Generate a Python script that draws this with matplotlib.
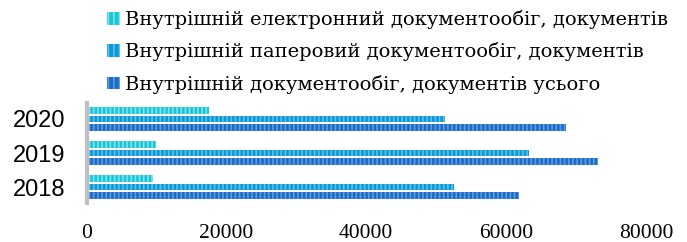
import numpy as np
import matplotlib.pyplot as plt
from matplotlib.patches import Patch

# Data
years = ['2018', '2019', '2020']
electronic = [9500, 9900, 17500]
paper = [52500, 63200, 51200]
total = [61900, 73200, 68600]
labels = ['Внутрішній електронний документообіг, документів',
          'Внутрішній паперовий документообіг, документів',
          'Внутрішній документообіг, документів усього']
xticks = [0, 20000, 40000, 60000, 80000]

colors = ['#19C6D6', '#0A98D6', '#1A6CC6']
hatch_colors = ['#7FE3EC', '#5CC0EA', '#5E9BE0']

fig = plt.figure(figsize=(6.87, 2.42), dpi=100)
ax = fig.add_axes([86.5 / 687, 1 - 203 / 242, (646 - 86.5) / 687, 100 / 242])

y = np.arange(len(years))
pitch = 0.255
h = 0.19
series = [electronic, paper, total]
plt.rcParams['hatch.linewidth'] = 1.2
for i, vals in enumerate(series):
    off = (1 - i) * pitch
    ax.barh(y + off, vals, height=h, color=colors[i], hatch='||||',
            linewidth=0, edgecolor=hatch_colors[i])

ax.set_xlim(0, 80000)
ax.set_ylim(-0.47, 2.47)
ax.set_yticks(y)
ax.set_yticklabels(years, fontsize=17, family='Liberation Sans')
ax.set_xticks(xticks)
ax.set_xticklabels([str(t) for t in xticks], fontsize=15.5, family='Liberation Serif')
ax.tick_params(length=0)
ax.tick_params(axis='x', pad=15)
ax.tick_params(axis='y', pad=15)
for s in ['top', 'right', 'bottom']:
    ax.spines[s].set_visible(False)
ax.spines['left'].set_color('#BFBFBF')
ax.spines['left'].set_linewidth(3)

handles = [Patch(facecolor=colors[i], edgecolor=hatch_colors[i], hatch='|||', linewidth=0)
           for i in range(3)]
fig.legend(handles, labels, loc='upper left', bbox_to_anchor=(0.131, 1.03),
           frameon=False, prop={'family': 'DejaVu Serif', 'size': 14},
           handlelength=0.62, handleheight=0.62, handletextpad=0.3, labelspacing=0.68)

fig.savefig('out.png', dpi=100)
